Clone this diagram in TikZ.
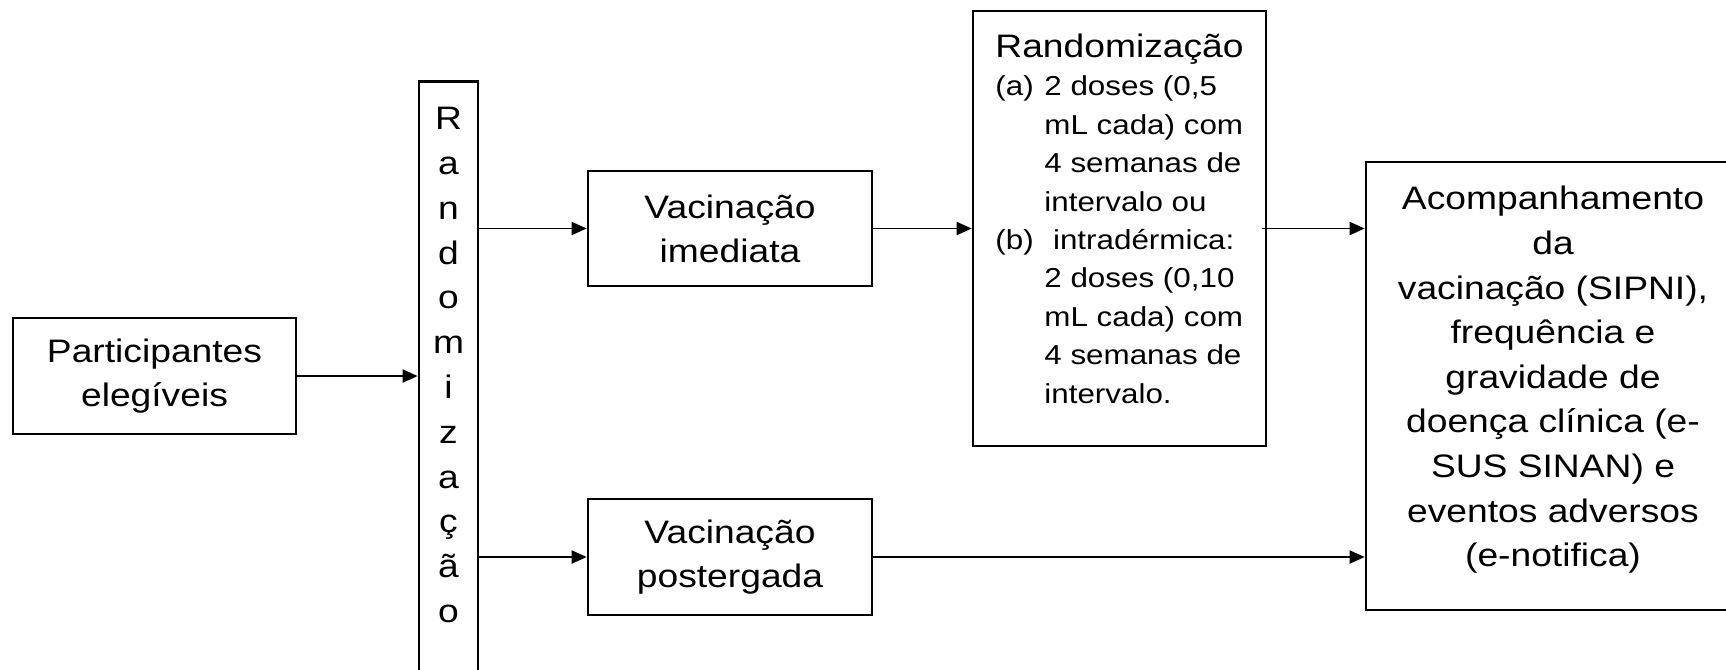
\documentclass[tikz,border=0pt]{standalone}
\usepackage{fontspec}
\setmainfont{Liberation Sans}[FakeStretch=1.145]
\usetikzlibrary{arrows.meta}
\usetikzlibrary{calc}

\tikzset{
  caixa/.style={draw=black, line width=1.35pt, align=center, inner sep=0pt,
    font=\fontsize{16.25}{22}\selectfont},
  letras/.style={align=center, inner sep=0pt, font=\fontsize{16.25}{22.4}\selectfont},
  seta/.style={line width=0.95pt, -{Triangle[length=7.5pt,width=6.5pt]}}
}

\begin{document}
\begin{tikzpicture}[x=0.5pt,y=-0.5pt]
        \useasboundingbox (0,0) rectangle (1726,670);
        \clip (0,0) rectangle (1726,670);

        %%% Participantes %%%
        \node[caixa, minimum width=141.5pt, minimum height=58pt] (part) at (154.5,376) {Participantes\\elegíveis};

        %%% Randomizacao (vertical) %%%
        \node[caixa, anchor=north, minimum width=29.5pt, minimum height=330pt] (rnd) at (448.5,80) {};
        \node[letras, anchor=north] (rndtxt) at (448.5,107) {R\\a\\n\\d\\o\\m\\i\\z\\a\\ç\\ã\\o};

        %%% Vacinacao %%%
        \node[caixa, minimum width=142pt, minimum height=57.5pt] (imm) at (730,228.5) {Vacinação\\imediata};
        \node[caixa, minimum width=142pt, minimum height=58pt] (post) at (730,557) {Vacinação\\postergada};

        %%% Randomizacao (doses) %%%
        \node[caixa, minimum width=146.5pt, minimum height=217.5pt, align=left, text depth=9.9pt,
              font=\fontsize{13.7}{19.2}\selectfont] (rnd2) at (1119.5,228.5)
              {{\fontsize{16.25}{19.2}\selectfont Randomização}\\
               \makebox[24.5pt][l]{(a)}2 doses (0,5\\
               \hspace*{24.5pt}mL cada) com\\
               \hspace*{24.5pt}4 semanas de\\
               \hspace*{24.5pt}intervalo ou\\
               \makebox[24.5pt][l]{(b)}\ intradérmica:\\
               \hspace*{24.5pt}2 doses (0,10\\
               \hspace*{24.5pt}mL cada) com\\
               \hspace*{24.5pt}4 semanas de\\
               \hspace*{24.5pt}intervalo.};

        %%% Acompanhamento %%%
        \node[caixa, minimum width=187pt, minimum height=224pt, text depth=9.4pt,
              font=\fontsize{16.25}{22.3}\selectfont] (acomp) at (1553,386)
              {Acompanhamento\\da\\vacinação (SIPNI),\\frequência e\\gravidade de\\doença clínica (e-\\SUS SINAN) e\\eventos adversos\\(e-notifica)};

        %%% Setas %%%
        \draw[seta] (part.east) -- (part.east -| rnd.west);
        \draw[seta] (rnd.east |- imm.west) -- (imm.west);
        \draw[seta] (rnd.east |- post.west) -- (post.west);
        \draw[seta] (imm.east) -- (imm.east -| rnd2.west);
        \draw[seta] ([xshift=-2.5pt]rnd2.east) -- (rnd2.east -| acomp.west);
        \draw[seta] (post.east) -- (post.east -| acomp.west);
    \end{tikzpicture}
\end{document}
